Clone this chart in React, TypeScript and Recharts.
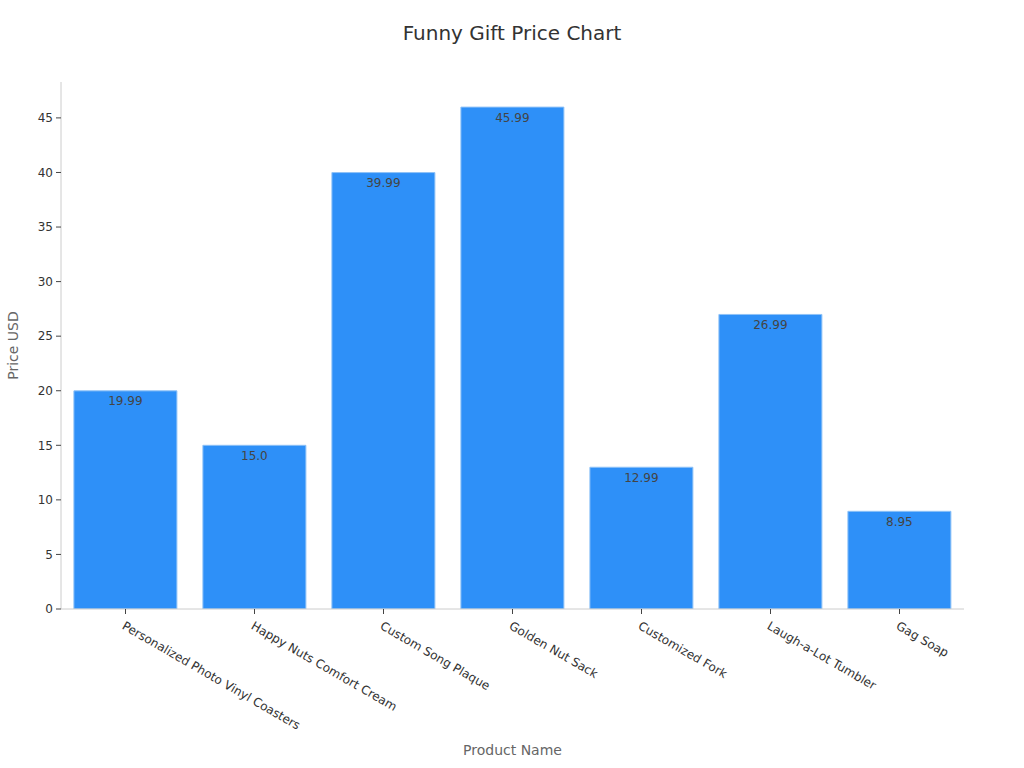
import React from "react";
import { BarChart, Bar, XAxis, YAxis, LabelList, Label } from "recharts";

const products = [
  "Personalized Photo Vinyl Coasters",
  "Happy Nuts Comfort Cream",
  "Custom Song Plaque",
  "Golden Nut Sack",
  "Customized Fork",
  "Laugh-a-Lot Tumbler",
  "Gag Soap",
];
const prices = [19.99, 15.0, 39.99, 45.99, 12.99, 26.99, 8.95];
const priceLabels = ["19.99", "15.0", "39.99", "45.99", "12.99", "26.99", "8.95"];
const yTicks = [0, 5, 10, 15, 20, 25, 30, 35, 40, 45];

const data = products.map((name, i) => ({ name, price: prices[i], label: priceLabels[i] }));

const FONT = "DejaVu Sans, sans-serif";

const XTick = (props: any) => {
  const { x, y, payload } = props;
  return (
    <text
      x={x}
      y={y}
      transform={`rotate(30, ${x}, ${y})`}
      textAnchor="start"
      dy="0.71em"
      fontSize={12}
      fill="#333"
      fontFamily={FONT}
    >
      {payload.value}
    </text>
  );
};

export default function App() {
  return (
    <div style={{ position: "absolute", left: 0, top: 0, width: 1024, height: 768, background: "#fff", fontFamily: FONT }}>
      <div
        style={{
          position: "absolute",
          top: 21,
          left: 0,
          width: 1024,
          textAlign: "center",
          fontSize: 20,
          color: "#333",
          fontFamily: FONT,
        }}
      >
        Funny Gift Price Chart
      </div>
      <BarChart
        width={1024}
        height={768}
        data={data}
        margin={{ top: 82, right: 60, left: 0, bottom: 0 }}
        barCategoryGap="10%"
      >
        <XAxis
          dataKey="name"
          height={159}
          interval={0}
          tick={<XTick />}
          tickSize={5}
          tickMargin={7}
          axisLine={{ stroke: "#ccc" }}
          tickLine={{ stroke: "#444" }}
        >
          <Label
            value="Product Name"
            position="insideBottom"
            offset={13}
            style={{ fontSize: 14, fill: "#666", fontFamily: FONT }}
          />
        </XAxis>
        <YAxis
          width={61}
          domain={[0, 48.29]}
          ticks={yTicks}
          allowDataOverflow
          tickSize={5}
          tickMargin={3}
          axisLine={{ stroke: "#ccc" }}
          tickLine={{ stroke: "#444" }}
          tick={{ fontSize: 12, fill: "#333", fontFamily: FONT }}
        >
          <Label
            value="Price USD"
            angle={-90}
            position="insideLeft"
            offset={13}
            style={{ fontSize: 14, fill: "#666", fontFamily: FONT, textAnchor: "middle" }}
          />
        </YAxis>
        <Bar dataKey="price" fill="#2e90f8" stroke="#8fc2f7" strokeWidth={1} isAnimationActive={false}>
          <LabelList
            dataKey="label"
            position="insideTop"
            offset={6}
            style={{ fontSize: 12, fill: "#444", fontFamily: FONT }}
          />
        </Bar>
      </BarChart>
    </div>
  );
}
